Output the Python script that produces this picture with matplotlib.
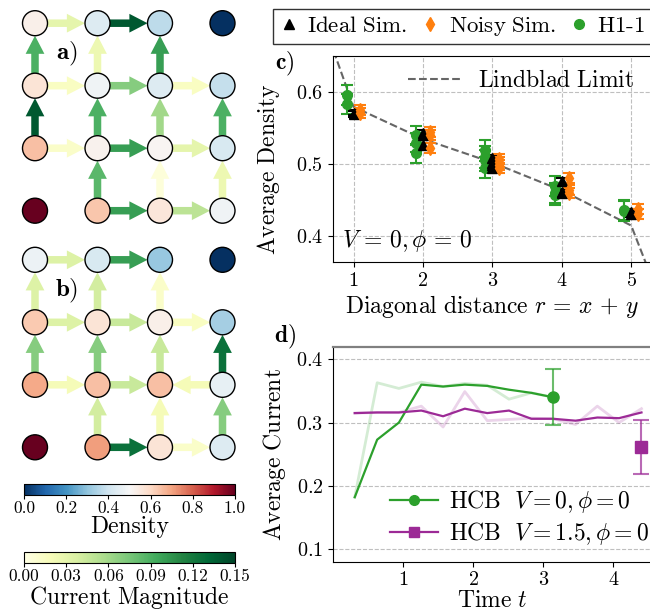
import numpy as np
import matplotlib
matplotlib.use("Agg")
import matplotlib.pyplot as plt
from matplotlib.patches import Circle, FancyArrow
from matplotlib.lines import Line2D
from matplotlib.colors import Normalize
from matplotlib.cm import ScalarMappable

plt.rcParams['font.family'] = 'serif'
plt.rcParams['font.serif'] = ['cmr10', 'DejaVu Serif']
plt.rcParams['mathtext.fontset'] = 'cm'
plt.rcParams['axes.formatter.use_mathtext'] = True
plt.rcParams['axes.unicode_minus'] = False

nan = np.nan

# site densities, rows from y=0 (bottom) to y=3 (top)
dens_a = [[1.00, 0.64, 0.56, 0.48],
          [0.65, 0.52, 0.51, 0.42],
          [0.57, 0.48, 0.43, 0.38],
          [0.53, 0.43, 0.37, 0.00]]
# bond currents: cur_h[y][x] is (x,y)->(x+1,y), cur_v[y][x] is (x,y)->(x,y+1)
cur_h_a = [[nan, 0.10, 0.05],
           [0.012, 0.10, 0.03],
           [0.015, 0.07, 0.015],
           [0.03, 0.14, nan]]
cur_v_a = [[nan, 0.085, 0.005, 0.025],
           [0.14, 0.09, 0.06, 0.09],
           [0.09, 0.025, 0.10, nan]]

dens_b = [[1.00, 0.71, 0.57, 0.43],
          [0.69, 0.65, 0.65, 0.46],
          [0.63, 0.57, 0.53, 0.33],
          [0.47, 0.42, 0.31, 0.00]]
cur_h_b = [[nan, 0.125, 0.012],
           [0.02, 0.045, -0.02],
           [0.035, 0.045, 0.015],
           [0.035, 0.10, nan]]
cur_v_b = [[nan, 0.04, 0.02, 0.07],
           [0.07, 0.07, 0.045, 0.125],
           [0.035, 0.04, 0.012, nan]]

# average density along the diagonals
r_vals = [1, 2, 3, 4, 5]
h1_dens = [[0.596, 0.584], [0.540, 0.530, 0.515], [0.519, 0.510, 0.505, 0.495],
           [0.469, 0.460, 0.456], [0.436, 0.434]]
h1_err = [0.014, 0.013, 0.015, 0.014, 0.014]
ideal_dens = [[0.572, 0.570], [0.544, 0.540, 0.526], [0.508, 0.502, 0.498, 0.494],
              [0.476, 0.461, 0.459], [0.433, 0.430]]
ideal_err = [0.004, 0.004, 0.004, 0.004, 0.004]
noisy_dens = [[0.575, 0.572], [0.545, 0.541, 0.523], [0.507, 0.503, 0.498, 0.494],
              [0.481, 0.463, 0.460], [0.437, 0.430]]
noisy_err = [0.007, 0.007, 0.007, 0.007, 0.007]
lind_r = [0, 1, 2, 3, 4, 5, 6]
lind_dens = [0.852, 0.580, 0.535, 0.502, 0.463, 0.414, 0.166]

# average current vs time
t_steps = [0.31, 0.63, 0.94, 1.26, 1.57, 1.88, 2.20, 2.51, 2.83, 3.14,
           3.46, 3.77, 4.08, 4.40]
cur_v0 = [0.182, 0.273, 0.300, 0.360, 0.357, 0.360, 0.358, 0.352, 0.347, 0.340]
cur_v0_raw = [0.182, 0.363, 0.354, 0.364, 0.357, 0.362, 0.359, 0.337, 0.347, 0.340]
cur_v15 = [0.315, 0.316, 0.316, 0.319, 0.310, 0.322, 0.315, 0.319, 0.306, 0.306,
           0.303, 0.308, 0.307, 0.316]
cur_v15_raw = [0.315, 0.316, 0.316, 0.326, 0.293, 0.349, 0.303, 0.305, 0.307, 0.306,
               0.297, 0.326, 0.300, 0.322]
h1_t, h1_cur, h1_cur_err = 3.14, 0.340, 0.044
h1b_t, h1b_cur, h1b_cur_err = 4.40, 0.261, 0.043

green = '#2ca02c'
orange = '#ff7f0e'
purple = '#9c2a96'

dens_cmap = plt.get_cmap('RdBu_r')
dens_norm = Normalize(0, 1)
cur_cmap = plt.get_cmap('YlGn')
cur_norm = Normalize(0, 0.15)

FS = 17     # labels and legends
TS = 14.5   # tick labels

W, H = 650, 610
fig = plt.figure(figsize=(6.5, 6.1), dpi=100)


def px_axes(left, top, right, bottom):
    return fig.add_axes([left / W, 1 - bottom / H, (right - left) / W, (bottom - top) / H])


def lattice(x0, y0, s, dens, cur_h, cur_v, label):
    lo, hi = -0.55, 3.55
    ax = px_axes(x0 + lo * s, y0 - hi * s, x0 + hi * s, y0 - lo * s)
    ax.set_xlim(lo, hi)
    ax.set_ylim(lo, hi)
    ax.axis('off')
    rad = 0.2
    bonds = []
    for y in range(4):
        for x in range(3):
            bonds.append((x, y, 1, 0, cur_h[y][x]))
    for y in range(3):
        for x in range(4):
            bonds.append((x, y, 0, 1, cur_v[y][x]))
    for x, y, dx, dy, c in bonds:
        if np.isnan(c):
            continue
        if c < 0:
            x, y, dx, dy = x + dx, y + dy, -dx, -dy
        ax.add_patch(FancyArrow(x + rad * dx, y + rad * dy, (1 - 2 * rad) * dx, (1 - 2 * rad) * dy,
                                width=0.12, head_width=0.30, head_length=0.29,
                                length_includes_head=True, lw=0,
                                color=cur_cmap(cur_norm(abs(c))), zorder=1))
    for y in range(4):
        for x in range(4):
            ax.add_patch(Circle((x, y), rad, facecolor=dens_cmap(dens_norm(dens[y][x])),
                                edgecolor='black', lw=1.0, zorder=2))
    ax.text(0.5, 2.5, r'$\mathbf{%s)}$' % label, ha='center', va='center', fontsize=FS + 1)


lattice(35, 210.7, 62.5, dens_a, cur_h_a, cur_v_a, 'a')
lattice(35, 447.3, 62.5, dens_b, cur_h_b, cur_v_b, 'b')

# colorbars
cax1 = px_axes(24, 484, 235, 495)
cb1 = fig.colorbar(ScalarMappable(dens_norm, dens_cmap), cax=cax1, orientation='horizontal')
cb1.set_ticks([0, 0.2, 0.4, 0.6, 0.8, 1.0])
cb1.ax.xaxis.set_major_formatter(plt.FormatStrFormatter('%.1f'))
cb1.ax.tick_params(labelsize=12.5, length=3, pad=1)
cb1.set_label('Density', fontsize=FS, labelpad=0)

cax2 = px_axes(24, 552, 235, 563)
cb2 = fig.colorbar(ScalarMappable(cur_norm, cur_cmap), cax=cax2, orientation='horizontal')
cb2.set_ticks([0, 0.03, 0.06, 0.09, 0.12, 0.15])
cb2.ax.xaxis.set_major_formatter(plt.FormatStrFormatter('%.2f'))
cb2.ax.tick_params(labelsize=12.5, length=3, pad=1)
cb2.set_label(r'$\mathrm{Current\ Magnitude}$', fontsize=FS, labelpad=0)

# panel c: density vs diagonal distance
axc = px_axes(332.7, 56, 652, 262)
for data, err, off, col, mk, ms in [(h1_dens, h1_err, -0.1, green, 'o', 7),
                                    (ideal_dens, ideal_err, 0.0, 'black', '^', 7),
                                    (noisy_dens, noisy_err, 0.1, orange, 'd', 7)]:
    xs, ys, es = [], [], []
    for r, vals, e in zip(r_vals, data, err):
        for v in vals:
            xs.append(r + off)
            ys.append(v)
            es.append(e)
    axc.errorbar(xs, ys, yerr=es, fmt=mk, color=col, ms=ms, capsize=4,
                 elinewidth=1.5, capthick=1.5, zorder=3)
axc.plot(lind_r, lind_dens, '--', color='0.4', lw=1.5,
         label=r'$\mathrm{Lindblad\ Limit}$', zorder=2)
axc.set_xlim(0.7, 5.3)
axc.set_ylim(0.363, 0.651)
axc.set_xticks([1, 2, 3, 4, 5])
axc.set_yticks([0.4, 0.5, 0.6])
axc.grid(True, ls='--', color='0.75', lw=0.8)
axc.tick_params(labelsize=TS)
axc.set_xlabel(r'$\mathrm{Diagonal\ distance}\ r\,=\,x\,+\,y$', fontsize=FS, labelpad=2)
axc.set_ylabel(r'$\mathrm{Average\ Density}$', fontsize=FS)
axc.yaxis.set_label_coords(-0.158, 0.45)
axc.text(0.03, 0.04, r'$V\,=\,0, \phi\,=\,0$', transform=axc.transAxes, fontsize=FS,
         ha='left', va='bottom')
axc.legend(loc='upper right', frameon=False, fontsize=FS, handlelength=2.2,
           borderaxespad=0.2, bbox_to_anchor=(0.99, 1.0))

# panel d: current vs time
axd = px_axes(333, 346.7, 652, 561.7)
n0 = len(cur_v0)
axd.plot(t_steps[:n0], cur_v0_raw, color=green, lw=2, alpha=0.2)
axd.plot(t_steps, cur_v15_raw, color=purple, lw=2, alpha=0.2)
axd.plot(t_steps[:n0], cur_v0, color=green, lw=1.6)
axd.plot(t_steps, cur_v15, color=purple, lw=1.6)
axd.errorbar([h1_t], [h1_cur], yerr=[h1_cur_err], fmt='none', ecolor=green,
             elinewidth=1.5, capsize=6, capthick=1.5, alpha=0.7, zorder=4)
axd.plot([h1_t], [h1_cur], 'o', color=green, ms=8, zorder=5)
axd.errorbar([h1b_t], [h1b_cur], yerr=[h1b_cur_err], fmt='none', ecolor=purple,
             elinewidth=1.5, capsize=6, capthick=1.5, alpha=0.7, zorder=4)
axd.plot([h1b_t], [h1b_cur], 's', color=purple, ms=8, zorder=5)
axd.set_xlim(0, 4.55)
axd.set_ylim(0.08, 0.42)
axd.set_xticks([1, 2, 3, 4])
axd.set_yticks([0.1, 0.2, 0.3, 0.4])
axd.yaxis.grid(True, ls='--', color='0.75', lw=0.8)
axd.spines['top'].set_color('0.5')
axd.spines['top'].set_linewidth(1.6)
axd.tick_params(labelsize=TS)
axd.set_xlabel(r'$\mathrm{Time}\ t$', fontsize=FS, labelpad=0)
axd.set_ylabel(r'$\mathrm{Average\ Current}$', fontsize=FS, labelpad=6)
d_handles = [Line2D([], [], color=green, marker='o', lw=1.6, ms=7),
             Line2D([], [], color=purple, marker='s', lw=1.6, ms=7)]
axd.legend(d_handles, [r'$\mathrm{HCB}\ \ V = 0, \phi = 0$',
                       r'$\mathrm{HCB}\ \ V = 1.5, \phi = 0$'],
           loc='lower left', bbox_to_anchor=(0.15, 0.025), frameon=False, fontsize=FS,
           handlelength=2.0, handletextpad=0.5, labelspacing=0.2, borderaxespad=0)

fig.text(285 / W, 1 - 64 / H, r'$\mathbf{c)}$', fontsize=FS, ha='center', va='center')
fig.text(285 / W, 1 - 337 / H, r'$\mathbf{d)}$', fontsize=FS, ha='center', va='center')

# shared marker legend
top_handles = [Line2D([], [], ls='none', marker='^', color='black', ms=7),
               Line2D([], [], ls='none', marker='d', color=orange, ms=7),
               Line2D([], [], ls='none', marker='o', color=green, ms=7)]
leg = fig.legend(top_handles, [r'$\mathrm{Ideal\ Sim.}$', r'$\mathrm{Noisy\ Sim.}$',
                               r'$\mathrm{H1}$-$\mathrm{1}$'], ncol=3,
                 loc='upper left', bbox_to_anchor=(272.7 / W, 1 - 9.3 / H),
                 fontsize=16.5, frameon=True, fancybox=False, edgecolor='black',
                 handlelength=0.9, handletextpad=0.35, columnspacing=0.55,
                 borderpad=0.25, borderaxespad=0)
leg.get_frame().set_linewidth(1.0)

fig.savefig('out.png', dpi=100)
